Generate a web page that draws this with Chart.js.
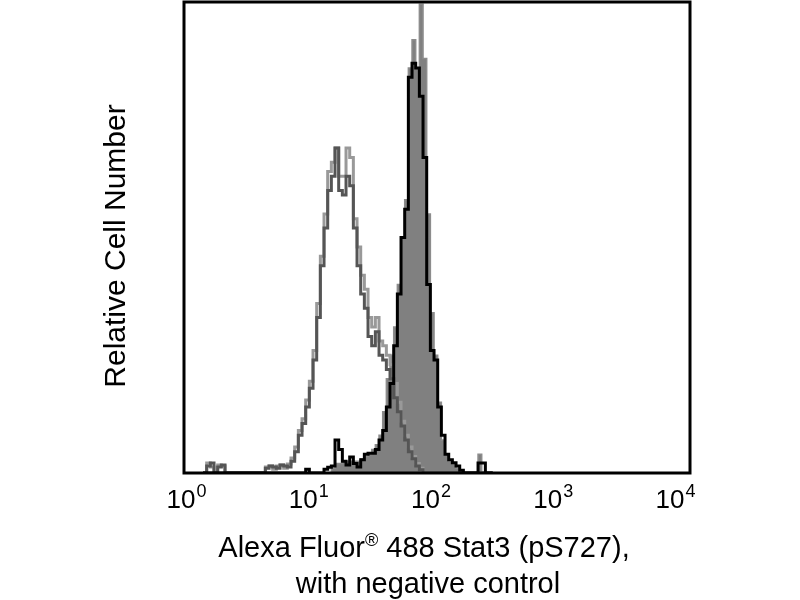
<!DOCTYPE html>
<html>
<head>
<meta charset="utf-8">
<title>Stat3 (pS727) histogram</title>
<script src="https://cdn.jsdelivr.net/npm/chart.js@4.4.0/dist/chart.umd.min.js"></script>
<style>
  body { margin: 0; background: #fff; }
</style>
</head>
<body>
<canvas id="hist" width="800" height="600"></canvas>
<script>
// bin left edges, in decades (log10 of fluorescence intensity)
const binStart = [
  0.18,0.21,0.24,0.27,0.30,0.33,0.36,0.39,0.42,0.45,
  0.48,0.51,0.54,0.57,0.60,0.63,0.66,0.69,0.72,0.75,
  0.78,0.81,0.84,0.87,0.90,0.93,0.96,0.99,1.02,1.05,
  1.08,1.11,1.14,1.17,1.20,1.23,1.26,1.29,1.32,1.35,
  1.38,1.41,1.44,1.47,1.50,1.53,1.56,1.59,1.62,1.65,
  1.68,1.71,1.74,1.77,1.80,1.83,1.86,1.89,1.92,1.95,
  1.98,2.01,2.04,2.07,2.10,2.13,2.16,2.19,2.22,2.25,
  2.28,2.31,2.34,2.37,2.40,2.43,2.46,2.49,2.52,2.55
];

// negative control, two overlaid traces (relative cell number, % of max)
const controlLight = [
  0,2.1,1.3,0,1.7,1.5,0,0,0,0,
  0,0,0,0,0,0,0,1.3,1.5,0.8,
  1.5,1.7,1.0,1.9,3.2,5.5,9.0,11.5,15.5,19.5,
  26,36,46,55,64,66,69,63,63,69,
  67,54,48,42,39,33,31,33,28,27,
  25,23,19,15,11,8,5.5,3.5,2,1,
  0,0,0,0,0,0,0,0,0,0,
  0,0,0,0,0,0,0,0,0,0
];
const controlDark = [
  0,1.5,2.1,0,1.3,1.7,0,0,0,0,
  0,0,0,0,0,0,0,1.0,1.5,1.3,
  1.0,1.7,1.5,1.3,2.5,4.5,8,10.5,14,18,
  24,33,44,52,60,63,69,60,59,63,
  61,52,44,38,35,29,27,30,25,24,
  22,20,16,13,10,7,4.5,3,1.5,0.7,
  0,0,0,0,0,0,0,0,0,0,
  0,0,0,0,0,0,0,0,0,0
];

// Stat3 (pS727) stained cells: filled trace and black outline trace
const stainedFill = [
  0,0,0,0,0,0,0,0,0,0,
  0,0,0,0,0,0,0,0,0,0,
  0,0,0,0,0,0,0,0,0,0,
  0,0,0,0,0,1,2,2,2.5,2.5,
  2.5,2.5,2.5,3,3.5,4,5,6,8,13,
  20,25,31,40,50,58,86,92,86,99.5,
  88,55,34,25,15,7,4,2.5,2,1,
  0.5,0,0,0,0,4,0,0,0,0
];
const stainedLine = [
  0,0,0,0,0,0,0,0,0,0,
  0,0,0,0,0,0,0,0,0,0,
  0,0,0,0,0,0,0,0,0.8,0,
  0,0,0,0.8,1.2,1.5,7,5,2.5,1.7,
  3.4,2,1.3,2.8,4,4.2,4.2,5,7,9,
  14,19,27,38,50,56,84,87,86,80,
  67,40,26,24,14,8,4,2.8,2.2,1.5,
  0.6,0,0,0,0,2.1,2.1,0,0,0
];

const tickExps = [0, 1, 2, 3, 4];
const yTitle = 'Relative Cell Number';
const xTitle1 = ['Alexa Fluor', '\u00AE', ' 488 Stat3 (pS727),'];
const xTitle2 = 'with negative control';

function pts(values) {
  return binStart.map((b, i) => ({ x: b, y: values[i] }));
}

const labelsPlugin = {
  id: 'labelsPlugin',
  afterDraw(chart) {
    const ctx = chart.ctx;
    const area = chart.chartArea;
    const xs = chart.scales.x;
    ctx.save();
    // frame
    ctx.strokeStyle = '#000';
    ctx.lineWidth = 3;
    ctx.strokeRect(area.left, area.top, area.right - area.left, area.bottom - area.top);

    ctx.fillStyle = '#000';
    ctx.textBaseline = 'alphabetic';
    // tick labels 10^n
    tickExps.forEach(e => {
      const px = xs.getPixelForValue(e);
      ctx.font = '26px "Liberation Sans", Arial, sans-serif';
      const w = ctx.measureText('10').width;
      ctx.textAlign = 'left';
      ctx.fillText('10', px - w / 2, area.bottom + 35);
      ctx.font = '18px "Liberation Sans", Arial, sans-serif';
      ctx.fillText(String(e), px + w / 2 + 1, area.bottom + 24);
    });

    // y title
    ctx.save();
    ctx.translate(125, 246);
    ctx.rotate(-Math.PI / 2);
    ctx.font = '30px "Liberation Sans", Arial, sans-serif';
    ctx.textAlign = 'center';
    ctx.fillText(yTitle, 0, 0);
    ctx.restore();

    // x title, line 1 with superscript registered mark
    const big = '29px "Liberation Sans", Arial, sans-serif';
    const small = '18px "Liberation Sans", Arial, sans-serif';
    ctx.textAlign = 'left';
    ctx.font = big;
    const w1 = ctx.measureText(xTitle1[0]).width;
    const w3 = ctx.measureText(xTitle1[2]).width;
    ctx.font = small;
    const w2 = ctx.measureText(xTitle1[1]).width;
    let x0 = 424 - (w1 + w2 + w3) / 2;
    ctx.font = big;
    ctx.fillText(xTitle1[0], x0, 557);
    ctx.font = small;
    ctx.fillText(xTitle1[1], x0 + w1, 546);
    ctx.font = big;
    ctx.fillText(xTitle1[2], x0 + w1 + w2, 557);

    ctx.textAlign = 'center';
    ctx.fillText(xTitle2, 428, 593);
    ctx.restore();
  }
};

const common = { stepped: 'before', pointRadius: 0, borderJoinStyle: 'miter', tension: 0 };

new Chart(document.getElementById('hist'), {
  type: 'line',
  data: {
    datasets: [
      Object.assign({ label: 'stained outline', data: pts(stainedLine), borderColor: '#000', borderWidth: 3, fill: false, order: 0 }, common),
      Object.assign({ label: 'control dark', data: pts(controlDark), borderColor: '#555555', borderWidth: 3, fill: false, order: 1 }, common),
      Object.assign({ label: 'control light', data: pts(controlLight), borderColor: '#999999', borderWidth: 3, fill: false, order: 2 }, common),
      Object.assign({ label: 'stained', data: pts(stainedFill), borderColor: '#8c8c8c', backgroundColor: '#808080', borderWidth: 1.5, fill: 'origin', order: 3 }, common)
    ]
  },
  options: {
    responsive: false,
    animation: false,
    events: [],
    layout: { padding: { left: 184, right: 110, top: 2, bottom: 127 } },
    plugins: { legend: { display: false }, tooltip: { enabled: false } },
    scales: {
      x: { type: 'linear', min: 0.0245, max: 4.164, display: false },
      y: { min: 0, max: 100, display: false }
    }
  },
  plugins: [labelsPlugin]
});
</script>
</body>
</html>
